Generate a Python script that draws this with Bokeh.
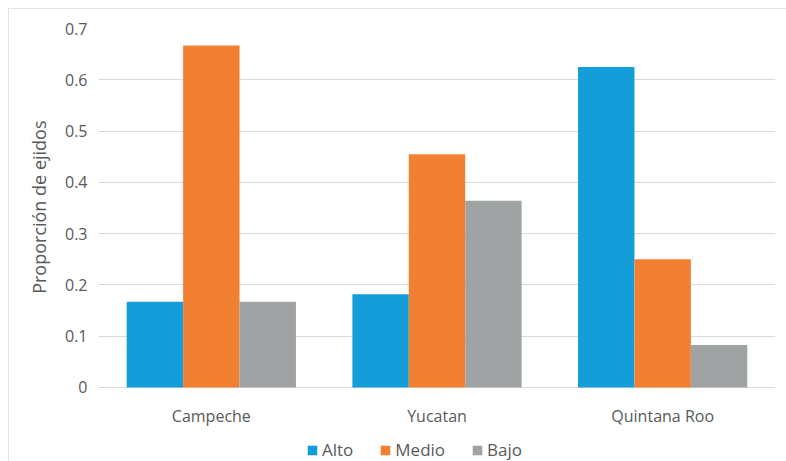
from bokeh.plotting import figure
from bokeh.models import ColumnDataSource, FactorRange, Range1d, Legend, LegendItem, Title
from bokeh.core.properties import value
from bokeh.transform import dodge
from bokeh.embed import file_html
from bokeh.resources import INLINE

# Proportion of ejidos by state and level
states = ["Campeche", "Yucatan", "Quintana Roo"]
alto = [0.167, 0.182, 0.625]
medio = [0.667, 0.455, 0.250]
bajo = [0.167, 0.364, 0.083]
levels = ["Alto", "Medio", "Bajo"]
colors = ["#149ED9", "#F28032", "#A0A3A4"]
y_ticks = [0, 0.1, 0.2, 0.3, 0.4, 0.5, 0.6, 0.7]
y_tick_labels = ["0", "0.1", "0.2", "0.3", "0.4", "0.5", "0.6", "0.7"]
y_label = "Proporción de ejidos"

TEXT = "#595959"
GRID = "#D9D9D9"
FONT = "Open Sans"

source = ColumnDataSource(dict(state=states, Alto=alto, Medio=medio, Bajo=bajo,
                               base=[0.0] * len(states)))

# The frame runs to the bottom edge so the category labels and the legend
# can sit below the zero line inside it; the value scale is 0 to 0.7.
p = figure(
    x_range=FactorRange(*states, range_padding=0),
    y_range=Range1d(-0.1443, 0.7),
    frame_width=677, frame_height=433,
    min_border_left=89, min_border_right=11,
    min_border_top=19, min_border_bottom=0,
    x_axis_location=None,
    toolbar_location=None, output_backend="svg",
    styles={"margin-left": "8px", "margin-top": "8px",
            "border-left": "1px solid #E3E3E3", "border-top": "1px solid #E3E3E3"},
)
p.outline_line_color = None
p.background_fill_color = "white"
p.border_fill_color = "white"

renderers = []
for lvl, off, col in zip(levels, [-0.25, 0.0, 0.25], colors):
    r = p.vbar(x=dodge("state", off, range=p.x_range), top=lvl, width=0.25,
               source=source, fill_color=col, line_color=None)
    renderers.append(r)

# category labels under the zero line
p.text(x="state", y="base", text="state", source=source,
       text_align="center", text_baseline="alphabetic", y_offset=29,
       text_font=value(FONT), text_font_size="16px", text_color=TEXT)

# y axis
p.yaxis.ticker = y_ticks
p.yaxis.major_label_overrides = {t: s for t, s in zip(y_ticks, y_tick_labels)}
p.yaxis.axis_line_color = None
p.yaxis.major_tick_line_color = None
p.yaxis.major_tick_out = 0
p.yaxis.major_tick_in = 0
p.yaxis.minor_tick_line_color = None
p.yaxis.major_label_text_font = FONT
p.yaxis.major_label_text_font_size = "16px"
p.yaxis.major_label_text_color = TEXT
p.yaxis.major_label_standoff = 11

p.xgrid.grid_line_color = None
p.ygrid.ticker = y_ticks
p.ygrid.grid_line_color = GRID
p.ygrid.grid_line_width = 1

# y axis title, centred on the 0-0.7 span
p.add_layout(Title(text=y_label, align="right", offset=92, standoff=22,
                   text_font=FONT, text_font_size="18px", text_font_style="normal",
                   text_color=TEXT), "left")

legend = Legend(
    items=[LegendItem(label=l, renderers=[r]) for l, r in zip(levels, renderers)],
    orientation="horizontal", location=(208, 0),
    label_text_font=FONT, label_text_font_size="17px", label_text_color=TEXT,
    glyph_width=12, glyph_height=12, label_standoff=4, spacing=26,
    padding=0, margin=0, border_line_color=None, background_fill_alpha=0,
)
p.add_layout(legend, "center")

open("out.html", "w").write(file_html(p, INLINE))
